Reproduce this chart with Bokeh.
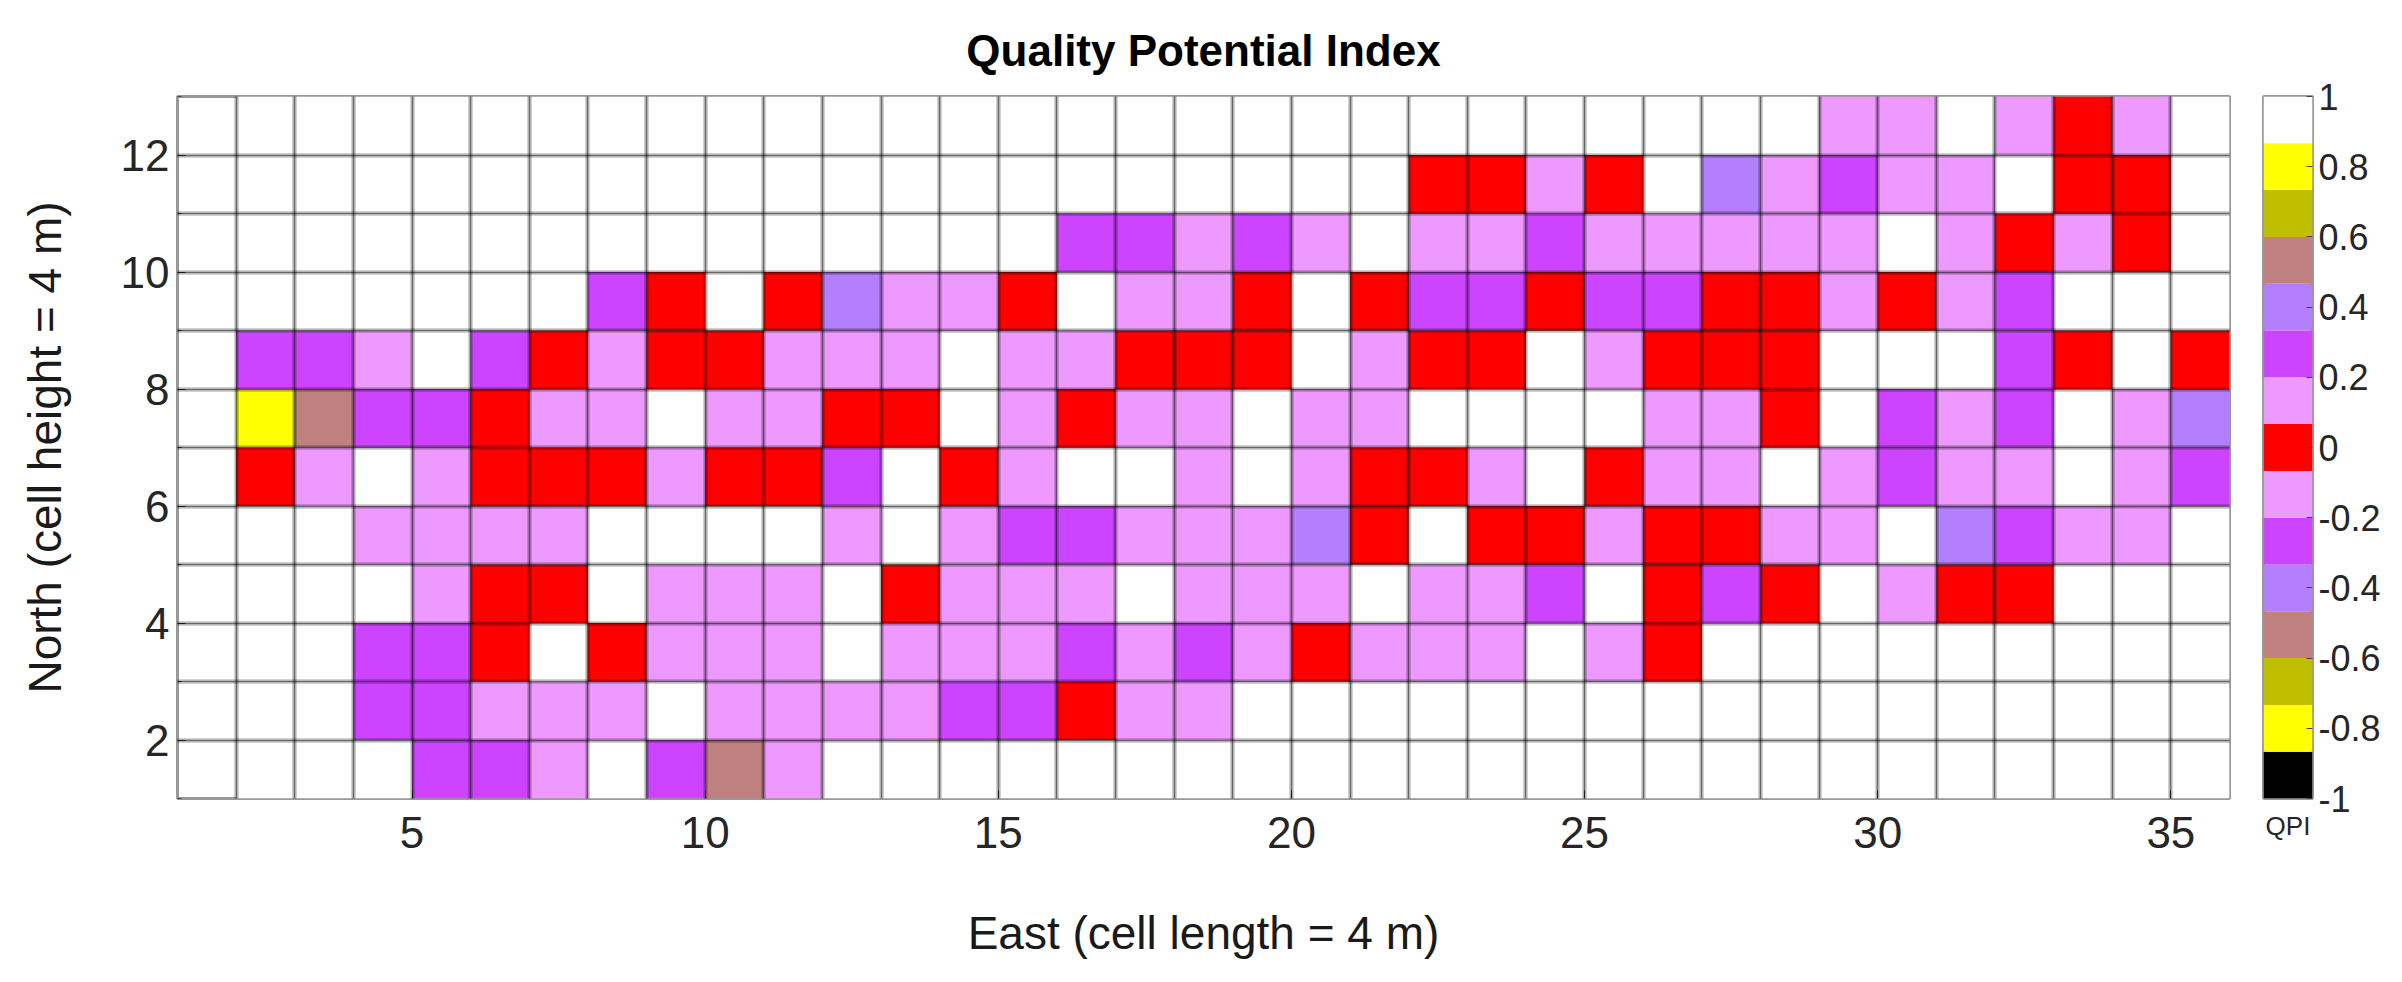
from bokeh.plotting import figure
from bokeh.layouts import row
from bokeh.models import (ColumnDataSource, LinearColorMapper, FixedTicker,
                          SingleIntervalTicker, Grid, CustomJSTickFormatter, Range1d)
from bokeh.embed import file_html
from bokeh.resources import INLINE

# ---------------- data ----------------
east_cells = list(range(2, 36))      # left edge of each cell column (East index)
north_rows = list(range(1, 13))      # bottom edge of each cell row (North index)

# QPI value of each cell, row by row (North = 1 ... 12), columns East = 2 ... 35
qpi_n1 = [0.93, 0.93, 0.93, 0.27, 0.27, 0.13, 0.93, 0.27, 0.53, 0.13, 0.93, 0.93, 0.93, 0.93, 0.93, 0.93, 0.93,
          0.93, 0.93, 0.93, 0.93, 0.93, 0.93, 0.93, 0.93, 0.93, 0.93, 0.93, 0.93, 0.93, 0.93, 0.93, 0.93, 0.93]
qpi_n2 = [0.93, 0.93, 0.27, 0.27, 0.13, 0.13, 0.13, 0.93, 0.13, 0.13, 0.13, 0.13, 0.27, 0.27, 0.0, 0.13, 0.13,
          0.93, 0.93, 0.93, 0.93, 0.93, 0.93, 0.93, 0.93, 0.93, 0.93, 0.93, 0.93, 0.93, 0.93, 0.93, 0.93, 0.93]
qpi_n3 = [0.93, 0.93, 0.27, 0.27, 0.0, 0.93, 0.0, 0.13, 0.13, 0.13, 0.93, 0.13, 0.13, 0.13, 0.27, 0.13, 0.27,
          0.13, 0.0, 0.13, 0.13, 0.13, 0.93, 0.13, 0.0, 0.93, 0.93, 0.93, 0.93, 0.93, 0.93, 0.93, 0.93, 0.93]
qpi_n4 = [0.93, 0.93, 0.93, 0.13, 0.0, 0.0, 0.93, 0.13, 0.13, 0.13, 0.93, 0.0, 0.13, 0.13, 0.13, 0.93, 0.13,
          0.13, 0.13, 0.93, 0.13, 0.13, 0.27, 0.93, 0.0, 0.27, 0.0, 0.93, 0.13, 0.0, 0.0, 0.93, 0.93, 0.93]
qpi_n5 = [0.93, 0.93, 0.13, 0.13, 0.13, 0.13, 0.93, 0.93, 0.93, 0.93, 0.13, 0.93, 0.13, 0.27, 0.27, 0.13, 0.13,
          0.13, 0.40, 0.0, 0.93, 0.0, 0.0, 0.13, 0.0, 0.0, 0.13, 0.13, 0.93, 0.40, 0.27, 0.13, 0.13, 0.93]
qpi_n6 = [0.0, 0.13, 0.93, 0.13, 0.0, 0.0, 0.0, 0.13, 0.0, 0.0, 0.27, 0.93, 0.0, 0.13, 0.93, 0.93, 0.13,
          0.93, 0.13, 0.0, 0.0, 0.13, 0.93, 0.0, 0.13, 0.13, 0.93, 0.13, 0.27, 0.13, 0.13, 0.93, 0.13, 0.27]
qpi_n7 = [0.80, 0.53, 0.27, 0.27, 0.0, 0.13, 0.13, 0.93, 0.13, 0.13, 0.0, 0.0, 0.93, 0.13, 0.0, 0.13, 0.13,
          0.93, 0.13, 0.13, 0.93, 0.93, 0.93, 0.93, 0.13, 0.13, 0.0, 0.93, 0.27, 0.13, 0.27, 0.93, 0.13, 0.40]
qpi_n8 = [0.27, 0.27, 0.13, 0.93, 0.27, 0.0, 0.13, 0.0, 0.0, 0.13, 0.13, 0.13, 0.93, 0.13, 0.13, 0.0, 0.0,
          0.0, 0.93, 0.13, 0.0, 0.0, 0.93, 0.13, 0.0, 0.0, 0.0, 0.93, 0.93, 0.93, 0.27, 0.0, 0.93, 0.0]
qpi_n9 = [0.93, 0.93, 0.93, 0.93, 0.93, 0.93, 0.27, 0.0, 0.93, 0.0, 0.40, 0.13, 0.13, 0.0, 0.93, 0.13, 0.13,
          0.0, 0.93, 0.0, 0.27, 0.27, 0.0, 0.27, 0.27, 0.0, 0.0, 0.13, 0.0, 0.13, 0.27, 0.93, 0.93, 0.93]
qpi_n10 = [0.93, 0.93, 0.93, 0.93, 0.93, 0.93, 0.93, 0.93, 0.93, 0.93, 0.93, 0.93, 0.93, 0.93, 0.27, 0.27, 0.13,
           0.27, 0.13, 0.93, 0.13, 0.13, 0.27, 0.13, 0.13, 0.13, 0.13, 0.13, 0.93, 0.13, 0.0, 0.13, 0.0, 0.93]
qpi_n11 = [0.93, 0.93, 0.93, 0.93, 0.93, 0.93, 0.93, 0.93, 0.93, 0.93, 0.93, 0.93, 0.93, 0.93, 0.93, 0.93, 0.93,
           0.93, 0.93, 0.93, 0.0, 0.0, 0.13, 0.0, 0.93, 0.40, 0.13, 0.27, 0.13, 0.13, 0.93, 0.0, 0.0, 0.93]
qpi_n12 = [0.93, 0.93, 0.93, 0.93, 0.93, 0.93, 0.93, 0.93, 0.93, 0.93, 0.93, 0.93, 0.93, 0.93, 0.93, 0.93, 0.93,
           0.93, 0.93, 0.93, 0.93, 0.93, 0.93, 0.93, 0.93, 0.93, 0.93, 0.13, 0.13, 0.93, 0.13, 0.0, 0.13, 0.93]

qpi_rows = [qpi_n1, qpi_n2, qpi_n3, qpi_n4, qpi_n5, qpi_n6,
            qpi_n7, qpi_n8, qpi_n9, qpi_n10, qpi_n11, qpi_n12]

# colour map (15 equal bins from -1 to 1)
qpi_palette = ["#000000", "#FFFF00", "#BFBF00", "#BF8080", "#B47FFF", "#CC44FF", "#EE99FF",
               "#FF0000",
               "#EE99FF", "#CC44FF", "#B47FFF", "#BF8080", "#BFBF00", "#FFFF00", "#FFFFFF"]
qpi_low, qpi_high = -1, 1
colorbar_ticks = [-1, -0.8, -0.6, -0.4, -0.2, 0, 0.2, 0.4, 0.6, 0.8, 1]
x_ticks = [5, 10, 15, 20, 25, 30, 35]
y_ticks = [2, 4, 6, 8, 10, 12]

# ---------------- table for the glyph ----------------
left, right, bottom, top, vals = [], [], [], [], []
for r, row_vals in zip(north_rows, qpi_rows):
    for c, v in zip(east_cells, row_vals):
        left.append(c)
        right.append(c + 1)
        bottom.append(r)
        top.append(r + 1)
        vals.append(v)
src = ColumnDataSource(dict(left=left, right=right, bottom=bottom, top=top, qpi=vals))

mapper = LinearColorMapper(palette=qpi_palette, low=qpi_low, high=qpi_high)

FONT = "Liberation Sans"
TICK_FMT = "const v = Math.round(tick*10)/10; return String(v);"

xr = Range1d(1, 36)
yr = Range1d(1, 13)
p = figure(frame_width=2052, frame_height=702, x_range=xr, y_range=yr,
           output_backend="svg", toolbar_location=None,
           min_border_left=177, min_border_top=96, min_border_bottom=150, min_border_right=10,
           title="Quality Potential Index")

p.quad(left="left", right="right", bottom="bottom", top="top", source=src,
       fill_color={"field": "qpi", "transform": mapper}, line_color=None)

# title
p.title.text_font = FONT
p.title.text_font_size = "44px"
p.title.text_font_style = "bold"
p.title.align = "center"
p.title.vertical_align = "top"
p.title.text_color = "#000000"
p.title.standoff = 40

# grid (every cell edge), drawn above the cells
p.xgrid.visible = False
p.ygrid.visible = False
for dim in (0, 1):
    halo = Grid(dimension=dim, ticker=SingleIntervalTicker(interval=1, num_minor_ticks=0),
                grid_line_color="#000000", grid_line_alpha=0.18, grid_line_width=5, level="annotation")
    core = Grid(dimension=dim, ticker=SingleIntervalTicker(interval=1, num_minor_ticks=0),
                grid_line_color="#000000", grid_line_alpha=0.5, grid_line_width=1.6, level="annotation")
    p.add_layout(halo)
    p.add_layout(core)

p.outline_line_color = "#999999"
p.outline_line_width = 3


def style_axis(ax, label_size="44px"):
    ax.axis_line_color = None
    ax.major_tick_in = 8
    ax.major_tick_out = 0
    ax.minor_tick_in = 4
    ax.minor_tick_out = 0
    ax.major_tick_line_color = "#444444"
    ax.minor_tick_line_color = "#444444"
    ax.major_label_text_font = FONT
    ax.major_label_text_font_size = label_size
    ax.major_label_text_color = "#262626"
    ax.axis_label_text_font = FONT
    ax.axis_label_text_font_size = "46px"
    ax.axis_label_text_font_style = "normal"
    ax.axis_label_text_color = "#1a1a1a"


style_axis(p.xaxis[0])
style_axis(p.yaxis[0])
p.xaxis.ticker = FixedTicker(ticks=x_ticks, minor_ticks=[])
p.yaxis.ticker = FixedTicker(ticks=y_ticks, minor_ticks=list(range(1, 14)))
p.xaxis.axis_label = "East (cell length = 4 m)"
p.yaxis.axis_label = "North (cell height = 4 m)"
p.xaxis.major_label_standoff = 18
p.yaxis.major_label_standoff = 8
p.xaxis.axis_label_standoff = 56
p.yaxis.axis_label_standoff = 47

# ---------------- colour bar as its own small figure ----------------
nbins = len(qpi_palette)
step = (qpi_high - qpi_low) / nbins
cb_src = ColumnDataSource(dict(
    bottom=[qpi_low + i * step for i in range(nbins)],
    top=[qpi_low + (i + 1) * step for i in range(nbins)],
    color=qpi_palette))

cbf = figure(frame_width=49, frame_height=702, x_range=Range1d(0, 1), y_range=Range1d(qpi_low, qpi_high),
             output_backend="svg", toolbar_location=None, y_axis_location="right",
             min_border_left=24, min_border_top=96, min_border_bottom=150, min_border_right=5)
cbf.quad(left=0, right=1, bottom="bottom", top="top", fill_color="color", line_color=None, source=cb_src)
cbf.xgrid.visible = False
cbf.ygrid.visible = False
cbf.outline_line_color = "#999999"
cbf.outline_line_width = 3

style_axis(cbf.yaxis[0], label_size="36px")
cbf.yaxis.ticker = FixedTicker(ticks=colorbar_ticks, minor_ticks=[])
cbf.yaxis.formatter = CustomJSTickFormatter(code=TICK_FMT)
cbf.yaxis.major_tick_in = 6
cbf.yaxis.major_label_standoff = 6

style_axis(cbf.xaxis[0])
cbf.xaxis.ticker = FixedTicker(ticks=[], minor_ticks=[])
cbf.xaxis.major_label_standoff = 0
cbf.xaxis.axis_label = "QPI"
cbf.xaxis.axis_label_text_font_size = "26px"
cbf.xaxis.axis_label_text_color = "#262626"
cbf.xaxis.axis_label_standoff = 12

layout = row(p, cbf)

open("out.html", "w").write(file_html(layout, INLINE))
